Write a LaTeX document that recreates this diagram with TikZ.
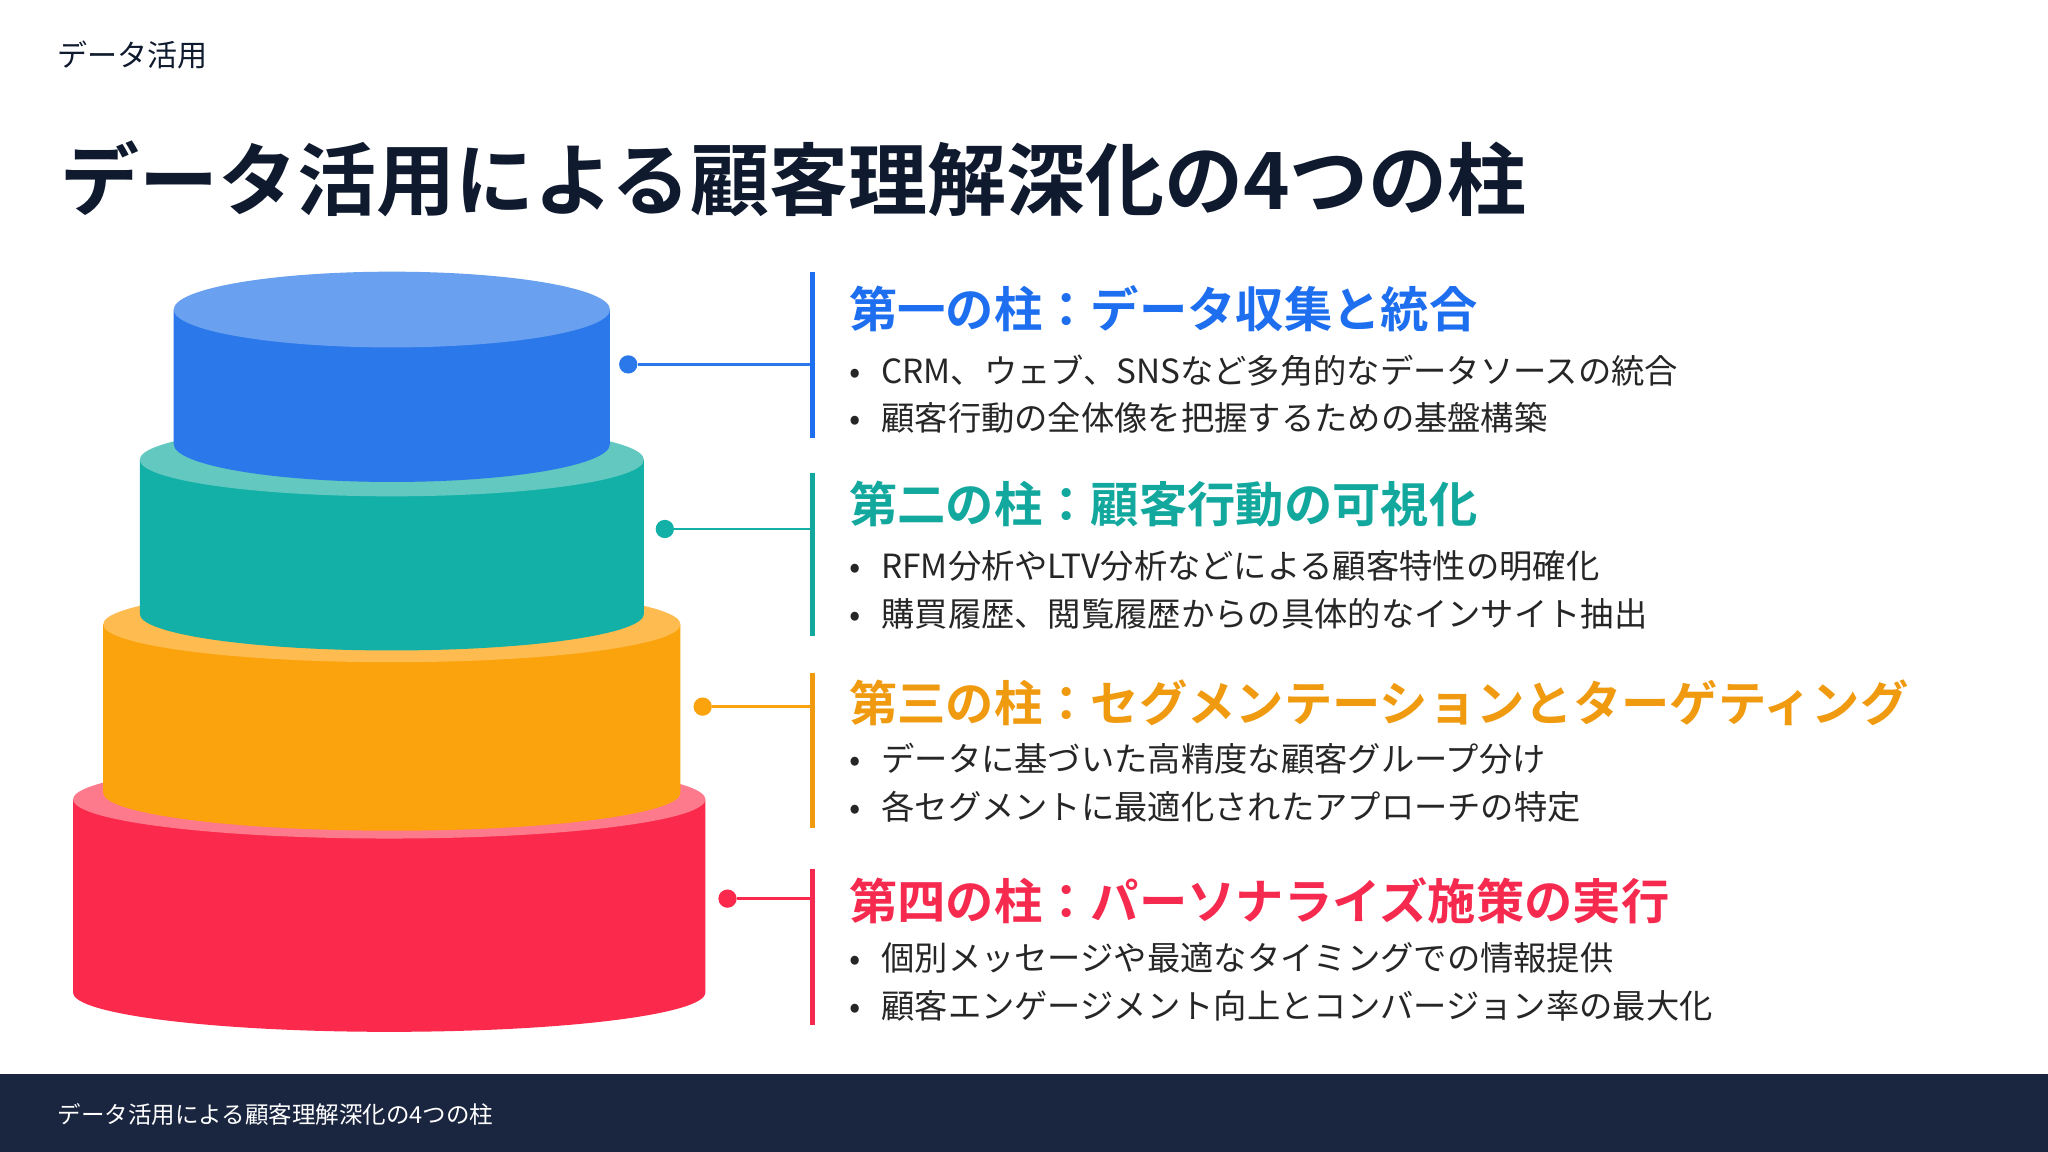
\documentclass[tikz,border=0pt]{standalone}
\usepackage{fontspec}
\setmainfont{Noto Sans CJK JP}[BoldFont={Noto Sans CJK JP Bold}]
\begin{document}
\begin{tikzpicture}[x=1pt,y=-1pt,
  head/.style={anchor=west,inner sep=0,font=\fontsize{37}{42}\selectfont\bfseries},
  bul/.style={anchor=west,inner sep=0,font=\fontsize{25.5}{30}\selectfont,text=black!85},
  dot/.style={circle,inner sep=0,minimum size=14pt},
  bar/.style={line width=3.5pt},
  link/.style={line width=2.2pt}]
\definecolor{navy}{HTML}{0F1A2E}
\definecolor{foot}{HTML}{1A2540}
\definecolor{cb}{HTML}{2A78EA}\definecolor{cbt}{HTML}{6AA0F0}\definecolor{hb}{HTML}{1E6EF0}
\definecolor{ct}{HTML}{12B0A6}\definecolor{ctt}{HTML}{62C8C0}\definecolor{ht}{HTML}{12A89E}
\definecolor{co}{HTML}{FBA30C}\definecolor{cot}{HTML}{FDBB50}\definecolor{ho}{HTML}{F09A10}
\definecolor{cr}{HTML}{FB2A4C}\definecolor{crt}{HTML}{FD7A8C}\definecolor{hr}{HTML}{F52A4E}
\fill[white] (0,0) rectangle (1568,882);
\useasboundingbox (0,0) rectangle (1568,882);
\newcommand{\cyl}[7]{%
  \fill[#6] (#1-#2,#3) -- (#1-#2,#4) arc[start angle=180,end angle=0,x radius=#2,y radius=#5] -- (#1+#2,#3) -- cycle;
  \fill[#7] (#1,#3) ellipse[x radius=#2,y radius=#5];}
\cyl{298}{242}{612}{760}{30}{cr}{crt}
\cyl{300}{221}{478}{607}{29}{co}{cot}
\cyl{300}{193}{352}{470}{28}{ct}{ctt}
\cyl{300}{167}{237}{340}{29}{cb}{cbt}
\node[dot,fill=cb] (d1) at (481,279) {}; \coordinate (b1) at (622,279);
\draw[link,cb] (d1) -- (b1); \draw[bar,hb] (622,208) -- (622,335);
\node[dot,fill=ct] (d2) at (509,405) {}; \coordinate (b2) at (622,405);
\draw[link,ct] (d2) -- (b2); \draw[bar,ht] (622,362) -- (622,487);
\node[dot,fill=co] (d3) at (538,541) {}; \coordinate (b3) at (622,541);
\draw[link,co] (d3) -- (b3); \draw[bar,ho] (622,515) -- (622,634);
\node[dot,fill=cr] (d4) at (557,688) {}; \coordinate (b4) at (622,688);
\draw[link,cr] (d4) -- (b4); \draw[bar,hr] (622,665) -- (622,785);
\node[anchor=west,inner sep=0,font=\fontsize{23}{26}\selectfont,text=navy] (lbl) at (44,42) {データ活用};
\node[anchor=west,inner sep=0,font=\fontsize{60.5}{66}\selectfont\bfseries,text=navy] (title) at (46,137) {データ活用による顧客理解深化の4つの柱};
\node[head,text=hb] (h1) at (650,236) {第一の柱：データ収集と統合};
\node[bul] (p11) at (650,284) {•\hspace{16pt}CRM、ウェブ、SNSなど多角的なデータソースの統合};
\node[bul] (p12) at (650,320) {•\hspace{16pt}顧客行動の全体像を把握するための基盤構築};
\node[head,text=ht] (h2) at (650,386) {第二の柱：顧客行動の可視化};
\node[bul] (p21) at (650,433) {•\hspace{16pt}RFM分析やLTV分析などによる顧客特性の明確化};
\node[bul] (p22) at (650,470) {•\hspace{16pt}購買履歴、閲覧履歴からの具体的なインサイト抽出};
\node[head,text=ho] (h3) at (650,538) {第三の柱：セグメンテーションとターゲティング};
\node[bul] (p31) at (650,581) {•\hspace{16pt}データに基づいた高精度な顧客グループ分け};
\node[bul] (p32) at (650,618) {•\hspace{16pt}各セグメントに最適化されたアプローチの特定};
\node[head,text=hr] (h4) at (650,690) {第四の柱：パーソナライズ施策の実行};
\node[bul] (p41) at (650,733) {•\hspace{16pt}個別メッセージや最適なタイミングでの情報提供};
\node[bul] (p42) at (650,770) {•\hspace{16pt}顧客エンゲージメント向上とコンバージョン率の最大化};
\fill[foot] (0,822) rectangle (1568,882);
\node[anchor=west,inner sep=0,font=\fontsize{18}{21}\selectfont,text=white] (ft) at (44,853) {データ活用による顧客理解深化の4つの柱};
\end{tikzpicture}
\end{document}
